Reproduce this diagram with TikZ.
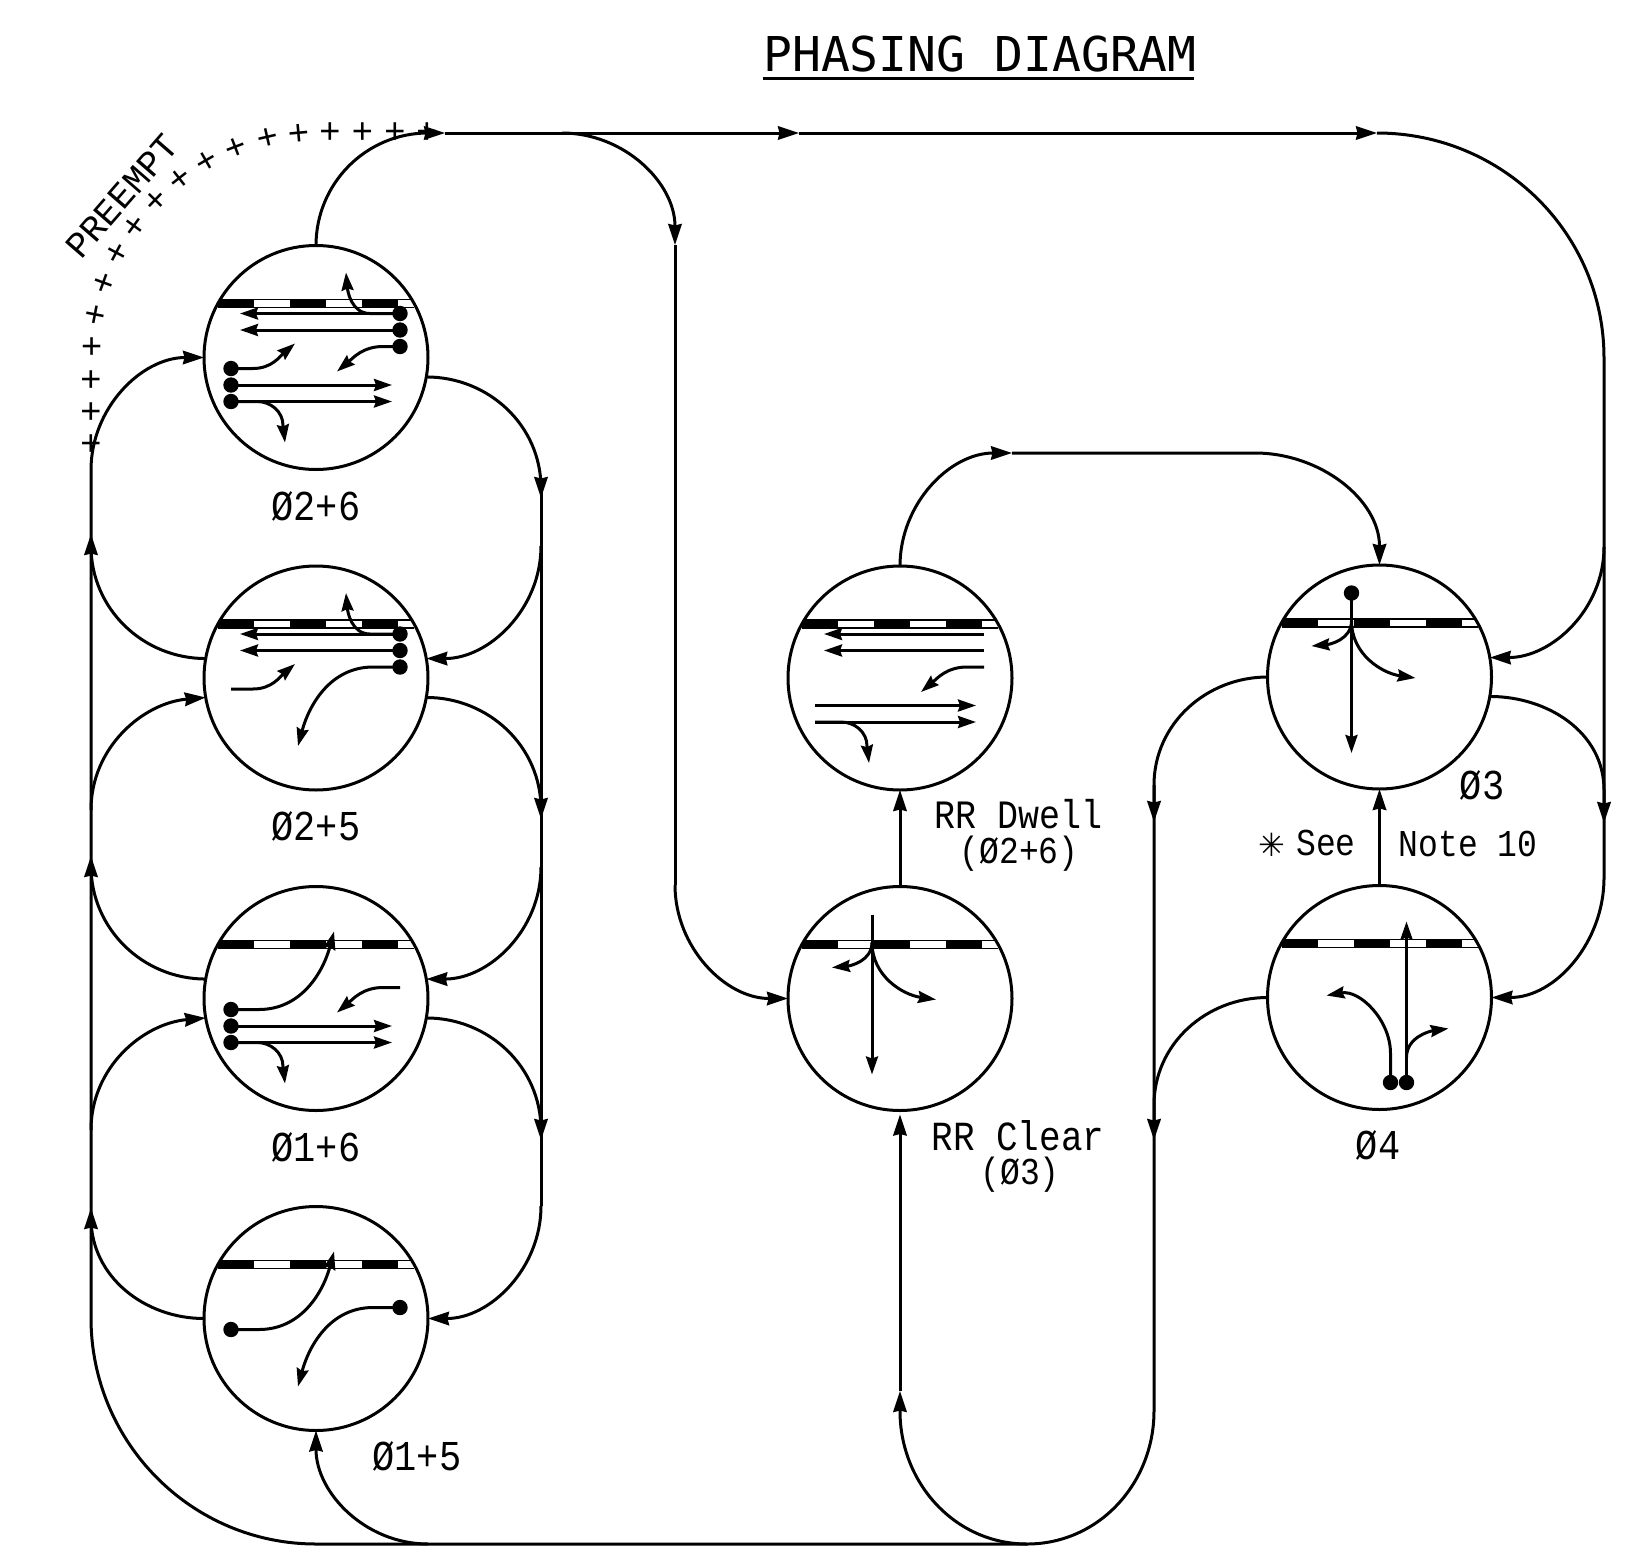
\documentclass[tikz,border=0pt]{standalone}
\usepackage{fontspec}
\usetikzlibrary{arrows.meta}
\setmainfont{Liberation Mono}
\newfontfamily\starfont{DejaVu Sans}
\newfontfamily\titlefont{DejaVu Sans Mono}
\tikzset{
  x=1pt,y=-1pt,
  every node/.style={inner sep=0pt,outer sep=0pt},
  phase/.style={circle,draw,line width=3pt,minimum size=224pt,fill=none},
  flow/.style={line width=3pt,line join=round},
  flowa/.style={flow,-{Stealth[length=21pt,width=13.5pt,inset=1.5pt]}},
  lane/.style={line width=3pt},
  lanea/.style={lane,-{Stealth[length=18pt,width=12pt,inset=2pt]}},
}
\newcommand{\cad}[3]{\fontsize{#1}{#1}\selectfont\addfontfeatures{LetterSpace=#2}\scalebox{1}[1.15]{#3}}
\newcommand{\dotat}[2]{\fill (#1,#2) circle[radius=7.7pt];}
\newcommand{\stopband}{%
  \begin{scope}
    \clip (0,0) circle[radius=111pt];
    \fill (-98,-58) rectangle (-62,-50);
    \fill (-26,-58) rectangle (10,-50);
    \fill (46,-58) rectangle (82,-50);
    \draw[line width=1.1pt] (-98,-58) -- (98,-58) (-98,-50) -- (98,-50);
  \end{scope}}
\newcommand{\wthrough}{%
  \draw[lanea] (84,-44) -- (-76,-44);
  \draw[lanea] (84,-27.5) -- (-76,-27.5);}
\newcommand{\ethrough}{%
  \draw[lanea] (-85,27.5) -- (76,27.5);
  \draw[lanea] (-85,44) -- (76,44);
  \draw[lanea] (-85,44) -- (-59,44) to[out=0,in=90] (-33,68) -- (-31,85);}
\newcommand{\wshort}{\draw[lanea] (84,-11) -- (67,-11) to[out=180,in=40] (21,14);}
\newcommand{\eshort}{\draw[lanea] (-85,11) -- (-63,11) to[out=0,in=-140] (-21,-14);}
\newcommand{\ebig}{\draw[lanea] (-85,11) -- (-57,11) to[out=0,in=-105] (18,-67);}
\newcommand{\wbig}{\draw[lanea] (84,-11) -- (57,-11) to[out=180,in=75] (-18,68);}
\newcommand{\uturn}{\draw[lanea] (84,-44) -- (54,-44) to[out=180,in=-85] (30,-85);}
\newcommand{\leftdots}{\dotat{-85}{27.5}\dotat{-85}{44}}
\newcommand{\rightdots}{\dotat{84}{-44}\dotat{84}{-27.5}\dotat{84}{-11}}
\newcommand{\nsmove}{%
  \draw[lanea] (-28,-84) -- (-28,76);
  \draw[lanea] (-28,-56) to[out=-90,in=5] (-68,-31);
  \draw[lanea] (-28,-56) to[out=-90,in=172] (36,1);}
\begin{document}
\begin{tikzpicture}
\useasboundingbox (0,0) rectangle (1633,1558);

% phase circles
\node[phase] (c1) at (316,357.5) {};
\node[phase] (c2) at (316,678) {};
\node[phase] (c3) at (316,998.5) {};
\node[phase] (c4) at (316,1318.5) {};
\node[phase] (dw) at (900,678) {};
\node[phase] (cl) at (900,998.5) {};
\node[phase] (p3) at (1379.5,677) {};
\node[phase] (p4) at (1379.5,997.5) {};

% interior movements
\begin{scope}[shift={(c1.center)}]
 \stopband \wthrough \wshort \uturn \ethrough \eshort \dotat{-85}{11} \leftdots \rightdots
\end{scope}
\begin{scope}[shift={(c2.center)}]
 \stopband \wthrough \wbig \uturn \eshort \rightdots
\end{scope}
\begin{scope}[shift={(c3.center)}]
 \stopband \ethrough \ebig \wshort \dotat{-85}{11} \leftdots
\end{scope}
\begin{scope}[shift={(c4.center)}]
 \stopband \ebig \wbig \dotat{-85}{11} \dotat{84}{-11}
\end{scope}
\begin{scope}[shift={(dw.center)}]
 \stopband \wthrough \wshort \ethrough
\end{scope}
\begin{scope}[shift={(cl.center)}]
 \stopband \nsmove
\end{scope}
\begin{scope}[shift={(p3.center)}]
 \stopband \nsmove \dotat{-28}{-84}
\end{scope}
\begin{scope}[shift={(p4.center)}]
 \stopband
 \draw[lanea] (27,85) -- (27,-76);
 \draw[lanea] (11,85) -- (11,56) to[out=90,in=10] (-53,-2);
 \draw[lanea] (27,60) to[out=90,in=-172] (69,31);
 \dotat{11}{85}\dotat{27}{85}
\end{scope}

% junctions
\coordinate (T1) at (428,133);
\coordinate (T1t) at (445,133);
\coordinate (T2t) at (799,133);
\coordinate (T3t) at (1377,133);
\coordinate (Tb) at (562,133);
\coordinate (M1) at (675,245);
\coordinate (M2) at (675,885);
\coordinate (RT) at (1604,358);
\coordinate (R3i) at (1604,547);
\coordinate (R3o) at (1604,790);
\coordinate (R3t) at (1604,823);
\coordinate (R4i) at (1604,878);
\coordinate (A1) at (541,488);
\coordinate (A1t) at (541,498);
\coordinate (A2i) at (541,546);
\coordinate (A2) at (541,809);
\coordinate (A2t) at (541,819);
\coordinate (A3i) at (541,867);
\coordinate (A3) at (541,1130);
\coordinate (A3t) at (541,1140);
\coordinate (A4i) at (541,1206);
\coordinate (B2) at (91,546);
\coordinate (B2t) at (91,534);
\coordinate (B3) at (91,866);
\coordinate (B3t) at (91,856);
\coordinate (B4) at (91,1218);
\coordinate (B4t) at (91,1208);
\coordinate (B1i) at (91,470);
\coordinate (B2i) at (91,810);
\coordinate (B3i) at (91,1130);
\coordinate (B5) at (91,1318);
\coordinate (F1) at (316,1544);
\coordinate (F2) at (428,1544);
\coordinate (F3) at (1027,1544);
\coordinate (G1) at (900,1411);
\coordinate (G1t) at (900,1391);
\coordinate (H1) at (1154,1411);
\coordinate (H2) at (1154,785);
\coordinate (H2t) at (1154,822);
\coordinate (H3) at (1154,1105);
\coordinate (H3t) at (1154,1140);
\coordinate (D1) at (1012,453);
\coordinate (D2) at (1255,453);

% preempt marks
\foreach \n/\px/\py/\r in {1/91/445/0,2/91/413/0,3/91/381/0,4/91.7/348/0,5/95/316/-11,6/103/284/-20,7/116/254/-28,8/133/227/-36,9/154/202/-44,10/178/180/-52,11/205/162/-60,12/234/148/-69,13/266/138/-77,14/297/133/-85,15/330/133/0,16/362.5/133/0,17/395/133/0,18/427/133/0}{
  \node[rotate=\r] (m\n) at (\px,\py) {\fontsize{36}{36}\selectfont +};
}

% top run and right side
\draw[flowa] (c1.north) to[out=90,in=180] (T1) -- (T1t);
\draw[flowa] (T1t) -- (T2t);
\draw[flowa] (T2t) -- (T3t);
\draw[flow] (T3t) to[out=0,in=90] (RT) -- (R4i);
\draw[flowa] (Tb) to[out=0,in=90] (M1);
\draw[flow] (M1) -- (M2);
\draw[flowa] (M2) to[out=-90,in=180] (cl.west);
\draw[flowa] (R3i) to[out=-90,in=0] (p3.10);
\draw[flowa] (p3.-10) to[out=0,in=90] (R3o) -- (R3t);
\draw[flowa] (R4i) to[out=-90,in=0] (p4.east);

% right side of the left column
\draw[flowa] (c1.-10) to[out=0,in=90] (A1) -- (A1t);
\draw[flow] (A1) -- (A4i);
\draw[flowa] (A2i) to[out=-90,in=0] (c2.10);
\draw[flowa] (c2.-10) to[out=0,in=90] (A2) -- (A2t);
\draw[flowa] (A3i) to[out=-90,in=0] (c3.10);
\draw[flowa] (c3.-10) to[out=0,in=90] (A3) -- (A3t);
\draw[flowa] (A4i) to[out=-90,in=0] (c4.east);

% left side of the left column
\draw[flowa] (B1i) to[out=90,in=180] (c1.west);
\draw[flowa] (B2i) to[out=90,in=185] (c2.190);
\draw[flowa] (B3i) to[out=90,in=185] (c3.190);
\draw[flowa] (c2.170) to[out=180,in=-90] (B2) -- (B2t);
\draw[flowa] (c3.170) to[out=180,in=-90] (B3) -- (B3t);
\draw[flowa] (c4.west) to[out=180,in=-90] (B4) -- (B4t);
\draw[flow] (B1i) -- (B5) to[out=-90,in=180] (F1) -- (F3);

% bottom
\draw[flowa] (F2) to[out=180,in=-90] (c4.south);
\draw[flow] (F3) to[out=0,in=-90] (H1) -- (H2);
\draw[flowa] (F3) to[out=180,in=-90] (G1) -- (G1t);
\draw[flowa] (G1t) -- ([yshift=-4pt]cl.south);
\draw[flowa] (cl.north) -- (dw.south);
\draw[flowa] (p4.north) -- (p3.south);
\draw[flowa] (dw.north) to[out=90,in=180] (D1);
\draw[flowa] (D1) -- (D2) to[out=0,in=90] (p3.north);
\draw[flowa] (p3.west) to[out=180,in=90] (H2) -- (H2t);
\draw[flowa] (p4.west) to[out=180,in=90] (H3) -- (H3t);

% labels
\node (title) at (980,54) {\fontsize{48}{48}\selectfont\titlefont PHASING DIAGRAM};
\draw[line width=2.4pt] (763,78.5) -- (1194,78.5);
\node (l1) at (316,506) {\cad{37}{0}{Ø2+6}};
\node (l2) at (316,826) {\cad{37}{0}{Ø2+5}};
\node (l3) at (316,1147) {\cad{37}{0}{Ø1+6}};
\node (l4) at (417,1456) {\cad{37}{0}{Ø1+5}};
\node (l5) at (1019,814) {\cad{35}{0}{RR Dwell}};
\node (l6) at (1019,854) {\cad{33}{0}{(Ø2+6)}};
\node (l7) at (1018,1136) {\cad{36}{0}{RR Clear}};
\node (l8) at (1020,1175) {\cad{33}{0}{(Ø3)}};
\node (l9) at (1482,785.5) {\cad{37}{0}{Ø3}};
\node (l10) at (1378,1145) {\cad{37}{0}{Ø4}};
\node (l11) at (1272,845) {\fontsize{32}{32}\selectfont\starfont ✳};
\node (l12) at (1326,843) {\cad{33}{0}{See}};
\node (l13) at (1468,844) {\cad{33}{0}{Note 10}};
\node[rotate=49] (l14) at (122,196) {\fontsize{36}{36}\selectfont PREEMPT};
\end{tikzpicture}
\end{document}
